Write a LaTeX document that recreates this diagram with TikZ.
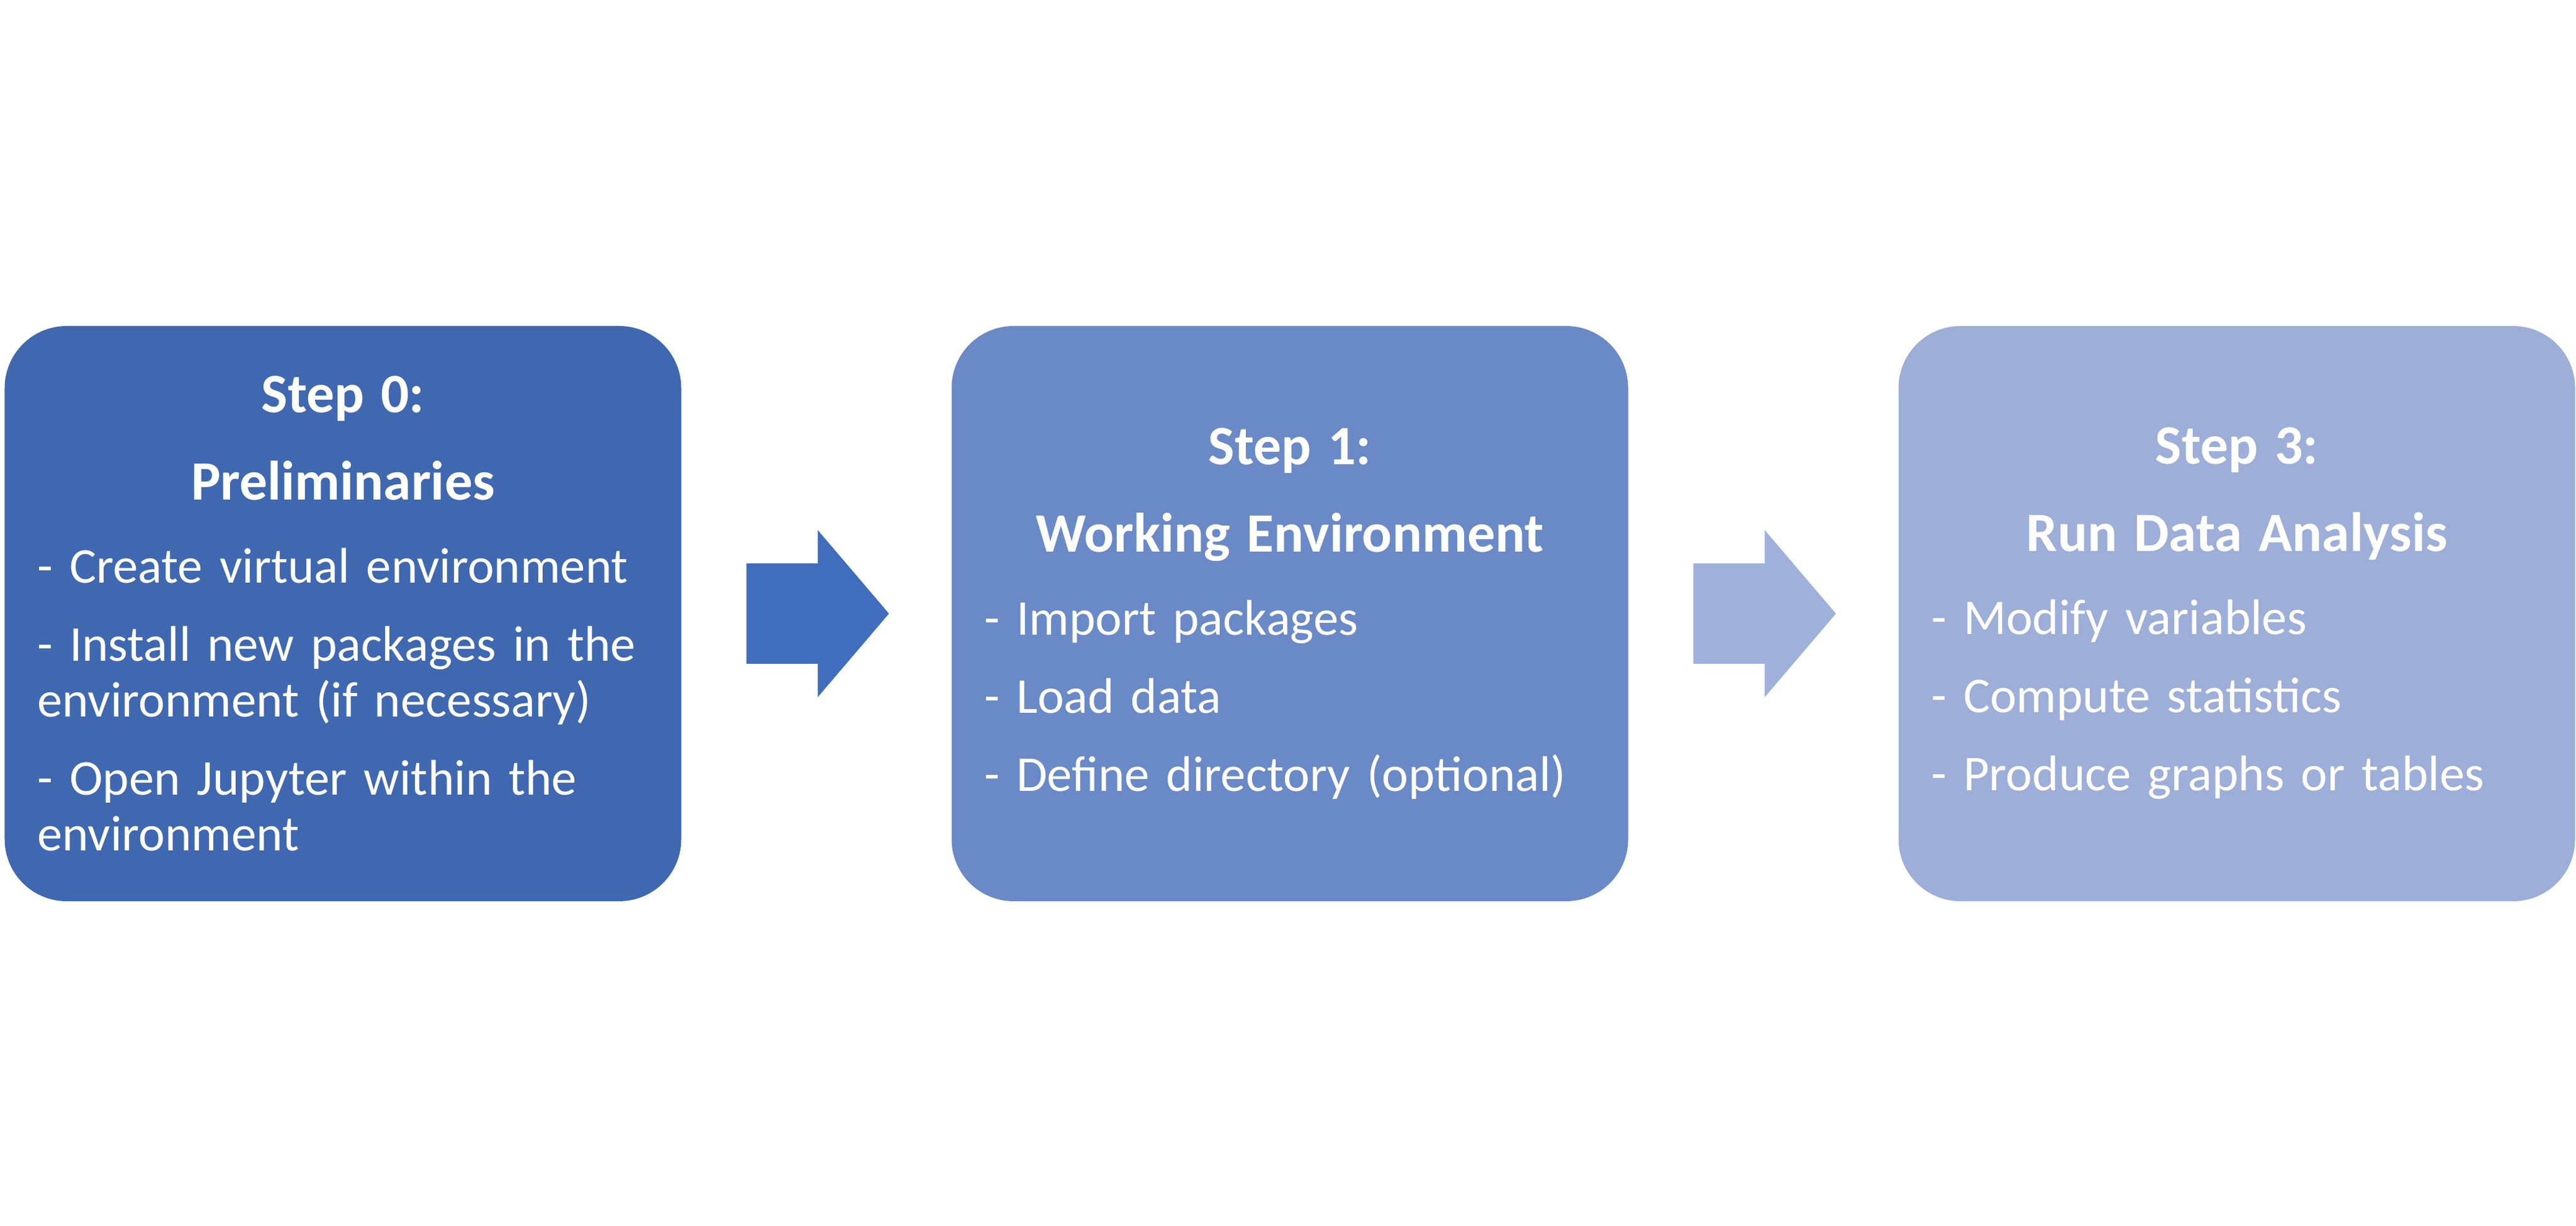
\documentclass[tikz,border=0pt]{standalone}
\usepackage{fontspec}
\setmainfont{Carlito}
\usetikzlibrary{calc}
\definecolor{stepdark}{HTML}{3F68B0}
\definecolor{stepmid}{HTML}{6A89C7}
\definecolor{steplight}{HTML}{9DAED8}
\definecolor{arrowdark}{HTML}{406EBC}
\definecolor{arrowlight}{HTML}{9FB1DB}
\newcommand{\steptitle}[2]{{\centering\fontsize{25.5}{25.6}\selectfont\bfseries #1\\[0.51cm]#2\par}\vspace{0.44cm}}

\begin{document}
\begin{tikzpicture}[
        stepbox/.style={rounded corners=1cm, minimum height=9.28cm, text width=9.85cm, inner xsep=0.53cm, inner ysep=0.2cm, align=left, text=white, font=\fontsize{23}{25.6}\selectfont}
    ]
        \useasboundingbox (0, 0) rectangle (41.54, 19.77);
        \node[stepbox, fill=stepdark] (prelim) at (5.53, 9.87) {\steptitle{Step 0:}{Preliminaries}
            - Create virtual environment\\[0.36cm]
            - Install new packages in the\\ environment (if necessary)\\[0.36cm]
            - Open Jupyter within the\\ environment};
        \node[stepbox, fill=stepmid] (workenv) at (20.80, 9.87) {\steptitle{Step 1:}{Working Environment}
            - Import packages\\[0.36cm]
            - Load data\\[0.36cm]
            - Define directory (optional)};
        \node[stepbox, fill=steplight] (analysis) at (36.07, 9.87) {\steptitle{Step 3:}{Run Data Analysis}
            - Modify variables\\[0.36cm]
            - Compute statistics\\[0.36cm]
            - Produce graphs or tables};
        \coordinate (gapA) at ($(prelim.east)!0.5!(workenv.west)$);
        \coordinate (gapB) at ($(workenv.east)!0.5!(analysis.west)$);
        \fill[arrowdark] ($(gapA)+(-1.13, 0.81)$) -- ++(1.15, 0) -- ++(0, 0.54) -- ++(1.15, -1.35) -- ++(-1.15, -1.35) -- ++(0, 0.54) -- ++(-1.15, 0) -- cycle;
        \fill[arrowlight] ($(gapB)+(-1.13, 0.81)$) -- ++(1.15, 0) -- ++(0, 0.54) -- ++(1.15, -1.35) -- ++(-1.15, -1.35) -- ++(0, 0.54) -- ++(-1.15, 0) -- cycle;
    \end{tikzpicture}
\end{document}
